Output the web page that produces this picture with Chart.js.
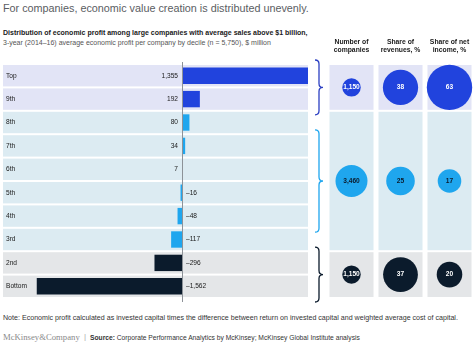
<!DOCTYPE html>
<html>
<head>
<meta charset="utf-8">
<script src="https://cdn.jsdelivr.net/npm/chart.js@4.4.1/dist/chart.umd.min.js"></script>
<style>
  body { margin: 0; width: 474px; height: 347px; background: #fff; position: relative; overflow: hidden;
         font-family: "Liberation Sans", Arial, sans-serif; }
  .abs { position: absolute; white-space: nowrap; }
  #title { left: 3px; top: 2px; font-size: 10.8px; color: #5a5d62; }
  #sub1 { left: 3px; top: 29px; font-size: 7px; font-weight: bold; color: #1a1a1a; }
  #sub2 { left: 3px; top: 39px; font-size: 7px; color: #555; }
  #note { left: 3px; top: 314px; font-size: 7.1px; color: #333; }
  #brand { left: 3px; top: 332px; font-size: 8.7px; color: #8a8a8a; font-family: "Liberation Serif", serif; }
  #sep { left: 84px; top: 332px; font-size: 8px; color: #aaa; }
  #source { left: 90px; top: 334px; font-size: 6.7px; color: #333; }
  canvas { position: absolute; }
</style>
</head>
<body>
<div id="title" class="abs">For companies, economic value creation is distributed unevenly.</div>
<div id="sub1" class="abs">Distribution of economic profit among large companies with average sales above $1 billion,</div>
<div id="sub2" class="abs">3-year (2014–16) average economic profit per company by decile (n = 5,750), $ million</div>
<canvas id="bars" width="312" height="248" style="left:0;top:58px"></canvas>
<canvas id="bubbles" width="164" height="274" style="left:310px;top:30px"></canvas>
<div id="note" class="abs">Note: Economic profit calculated as invested capital times the difference between return on invested capital and weighted average cost of capital.</div>
<div id="brand" class="abs">McKinsey&amp;Company</div>
<div id="sep" class="abs">|</div>
<div id="source" class="abs"><b>Source:</b> Corporate Performance Analytics by McKinsey; McKinsey Global Institute analysis</div>
<script>
// deciles and their average economic profit, $ million
const deciles = ['Top', '9th', '8th', '7th', '6th', '5th', '4th', '3rd', '2nd', 'Bottom'];
const profit = [1355, 192, 80, 34, 7, -16, -48, -117, -296, -1562];

// three groups of deciles: first row index and row count
const groupStart = [0, 2, 8];
const groupRows = [2, 6, 2];

// right-hand columns
const columnTitles = [['Number of', 'companies'], ['Share of', 'revenues, %'], ['Share of net', 'income, %']];
const companies = [1150, 3460, 1150];
const revenueShare = [38, 25, 37];
const incomeShare = [63, 17, 20];

const groupBar = ['#2143dd', '#1fa6ee', '#0b1b2c'];
const groupBand = ['#e2e4f6', '#dcebf2', '#e4e6e8'];
const groupText = ['#ffffff', '#0b1b2c', '#ffffff'];
const groupOf = i => groupStart.findIndex((s, g) => i >= s && i < s + groupRows[g]);

const FONT = '"Liberation Sans", Arial, sans-serif';

// row backgrounds, zero line and labels for the bar panel
const barDecor = {
  id: 'barDecor',
  beforeDatasetsDraw(chart) {
    const { ctx, chartArea: a, scales: { y } } = chart;
    const h = (a.bottom - a.top) / deciles.length;
    ctx.save();
    deciles.forEach((d, i) => {
      const cy = y.getPixelForValue(i);
      ctx.fillStyle = groupBand[groupOf(i)];
      ctx.fillRect(a.left, cy - h / 2 + 1, a.right - a.left, h - 2);
    });
    ctx.restore();
  },
  afterDatasetsDraw(chart) {
    const { ctx, chartArea: a, scales: { x, y } } = chart;
    const x0 = x.getPixelForValue(0);
    ctx.save();
    ctx.strokeStyle = '#8d9298';
    ctx.lineWidth = 1;
    ctx.beginPath();
    ctx.moveTo(Math.round(x0) + 0.5, a.top - 2);
    ctx.lineTo(Math.round(x0) + 0.5, a.bottom + 4);
    ctx.stroke();
    ctx.font = '6.6px ' + FONT;
    ctx.fillStyle = '#1a1a1a';
    ctx.textBaseline = 'middle';
    deciles.forEach((d, i) => {
      const cy = y.getPixelForValue(i);
      ctx.textAlign = 'left';
      ctx.fillText(d, a.left + 3, cy);
      const v = profit[i];
      const txt = (v < 0 ? '\u2013' : '') + Math.abs(v).toLocaleString('en-US');
      if (v >= 0) {
        ctx.textAlign = 'right';
        ctx.fillText(txt, x0 - 4, cy);
      } else {
        ctx.textAlign = 'left';
        ctx.fillText(txt, x0 + 4, cy);
      }
    });
    ctx.restore();
  }
};

new Chart(document.getElementById('bars'), {
  type: 'bar',
  data: {
    labels: deciles,
    datasets: [{
      data: profit,
      backgroundColor: deciles.map((d, i) => groupBar[groupOf(i)]),
      borderWidth: 0,
      categoryPercentage: 1,
      barPercentage: 0.7
    }]
  },
  options: {
    indexAxis: 'y',
    responsive: false,
    animation: false,
    layout: { autoPadding: false, padding: { left: 3, right: 4, top: 6, bottom: 8 } },
    scales: {
      x: { display: false, min: -1925, max: 1355 },
      y: { display: false }
    },
    plugins: { legend: { display: false }, tooltip: { enabled: false } }
  },
  plugins: [barDecor]
});

// bubble sizes: companies on one scale, the two shares on another
const rCompanies = v => 0.272 * Math.sqrt(v);
const rShare = v => 2.86 * Math.sqrt(v);
const columns = [companies, revenueShare, incomeShare];
const radius = [rCompanies, rShare, rShare];
const groupCenter = groupStart.map((s, g) => s + groupRows[g] / 2);

// column bands, headers, braces and bubble labels
const bubbleDecor = {
  id: 'bubbleDecor',
  beforeDatasetsDraw(chart) {
    const { ctx, chartArea: a, scales: { x, y } } = chart;
    ctx.save();
    columns.forEach((col, c) => {
      const cx = x.getPixelForValue(c + 1);
      groupStart.forEach((s, g) => {
        const top = y.getPixelForValue(s) + 1;
        const bot = y.getPixelForValue(s + groupRows[g]) - 1;
        ctx.fillStyle = groupBand[g];
        ctx.fillRect(cx - 22, top, 44, bot - top);
      });
      ctx.fillStyle = '#1a1a1a';
      ctx.font = 'bold 6.8px ' + FONT;
      ctx.textAlign = 'center';
      ctx.textBaseline = 'middle';
      columnTitles[c].forEach((t, k) => ctx.fillText(t, cx, a.top - 22 + k * 8));
    });
    // braces to the left of the columns
    const pads = [-4, 19, -4];
    groupStart.forEach((s, g) => {
      const y1 = y.getPixelForValue(s) + pads[g];
      const y2 = y.getPixelForValue(s + groupRows[g]) - pads[g];
      const ym = (y1 + y2) / 2;
      const xl = a.left - 12, xv = a.left - 8, xt = a.left - 4, r = 4;
      ctx.strokeStyle = groupBar[g] === '#2143dd' ? '#2b3fc2' : groupBar[g];
      ctx.lineWidth = 1.3;
      ctx.beginPath();
      ctx.moveTo(xl, y1);
      ctx.quadraticCurveTo(xv, y1, xv, y1 + r);
      ctx.lineTo(xv, ym - r);
      ctx.quadraticCurveTo(xv, ym, xt, ym);
      ctx.quadraticCurveTo(xv, ym, xv, ym + r);
      ctx.lineTo(xv, y2 - r);
      ctx.quadraticCurveTo(xv, y2, xl, y2);
      ctx.stroke();
    });
    ctx.restore();
  },
  afterDatasetsDraw(chart) {
    const { ctx, scales: { x, y } } = chart;
    ctx.save();
    ctx.font = 'bold 6.6px ' + FONT;
    ctx.textAlign = 'center';
    ctx.textBaseline = 'middle';
    columns.forEach((col, c) => {
      col.forEach((v, g) => {
        ctx.fillStyle = groupText[g];
        ctx.fillText(v.toLocaleString('en-US'), x.getPixelForValue(c + 1), y.getPixelForValue(groupCenter[g]));
      });
    });
    ctx.restore();
  }
};

new Chart(document.getElementById('bubbles'), {
  type: 'bubble',
  data: {
    datasets: columns.map((col, c) => ({
      data: col.map((v, g) => ({ x: c + 1, y: groupCenter[g], r: radius[c](v) })),
      backgroundColor: groupBar,
      borderWidth: 0,
      clip: false
    }))
  },
  options: {
    responsive: false,
    animation: false,
    layout: { autoPadding: false, padding: { left: 17, right: 0, top: 34, bottom: 6 } },
    scales: {
      x: { display: false, min: 0.5, max: 3.5 },
      y: { display: false, min: 0, max: 10, reverse: true }
    },
    plugins: { legend: { display: false }, tooltip: { enabled: false } }
  },
  plugins: [bubbleDecor]
});
</script>
</body>
</html>
